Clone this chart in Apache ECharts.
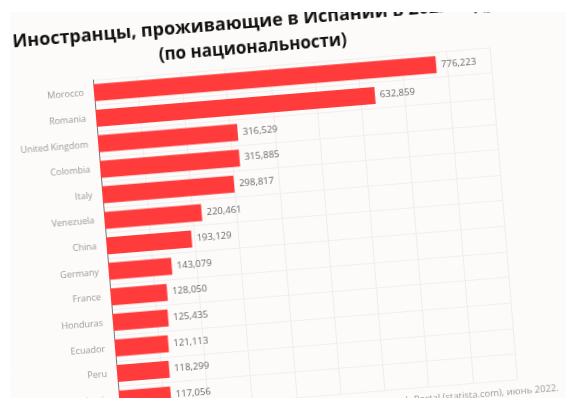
<!DOCTYPE html>
<html>
<head>
<meta charset="utf-8">
<script src="https://cdn.jsdelivr.net/npm/echarts@6/dist/echarts.min.js"></script>
<style>
  html, body { margin: 0; padding: 0; background: #fff; width: 570px; height: 409px; overflow: hidden; }
  #frame { position: absolute; left: 10px; top: 12px; width: 556px; height: 386px; overflow: hidden; background: #fcfbf9; }
  #chart { position: absolute; left: -30px; top: -12px; width: 620px; height: 470px;
           transform: rotate(-4.7deg); transform-origin: 0 0; }
</style>
</head>
<body>
<div id="frame"><div id="chart"></div></div>
<script>
// страны и численность иностранцев
var countries = ['Morocco','Romania','United Kingdom','Colombia','Italy','Venezuela','China','Germany','France','Honduras','Ecuador','Peru','Bulgaria'];
var residents = [776223, 632859, 316529, 315885, 298817, 220461, 193129, 143079, 128050, 125435, 121113, 118299, 117056];
var titleLines = ['Иностранцы, проживающие в Испании в 2022 году', '(по национальности)'];
var sourceText = 'Источник: Statista Research Portal (statista.com), июнь 2022.';

var chart = echarts.init(document.getElementById('chart'));
var option = {
    backgroundColor: '#fcfbf9',
    animation: false,
    title: [{
        text: titleLines[0],
        left: 24,
        top: 27,
        textStyle: {
            fontFamily: 'Open Sans',
            fontWeight: 'bold',
            fontSize: 18,
            lineHeight: 25,
            color: '#111'
        }
    }, {
        text: titleLines[1],
        left: 263,
        top: 53,
        textAlign: 'center',
        textStyle: {
            fontFamily: 'Open Sans',
            fontWeight: 'bold',
            fontSize: 17,
            lineHeight: 25,
            color: '#111'
        }
    }, {
        text: sourceText,
        right: 70,
        top: 424,
        textStyle: {
            fontFamily: 'Open Sans',
            fontWeight: 'normal',
            fontSize: 9.5,
            color: '#9a9a9a'
        }
    }],
    grid: {
        left: 106,
        top: 89,
        width: 398,
        height: 333
    },
    xAxis: {
        type: 'value',
        min: 0,
        max: 900000,
        interval: 100000,
        axisLabel: { show: false },
        axisLine: { show: false },
        axisTick: { show: false },
        splitLine: { lineStyle: { color: '#f0eceb', width: 1 } }
    },
    yAxis: {
        type: 'category',
        inverse: true,
        data: countries,
        axisTick: { show: false },
        axisLine: { lineStyle: { color: '#777', width: 1 } },
        axisLabel: {
            fontFamily: 'Open Sans',
            fontSize: 9,
            color: '#999',
            margin: 10,
            padding: [6, 0, 0, 0]
        },
        splitLine: { show: true, lineStyle: { color: '#f2eeed', width: 1 } }
    },
    series: [{
        type: 'bar',
        data: residents,
        barWidth: 17,
        itemStyle: { color: '#ff3b3b' },
        label: {
            show: true,
            position: 'right',
            distance: 5,
            fontFamily: 'Open Sans',
            fontSize: 9.5,
            color: '#666',
            formatter: function (p) {
                return p.value.toLocaleString('en-US');
            }
        }
    }]
};
chart.setOption(option);
</script>
</body>
</html>
